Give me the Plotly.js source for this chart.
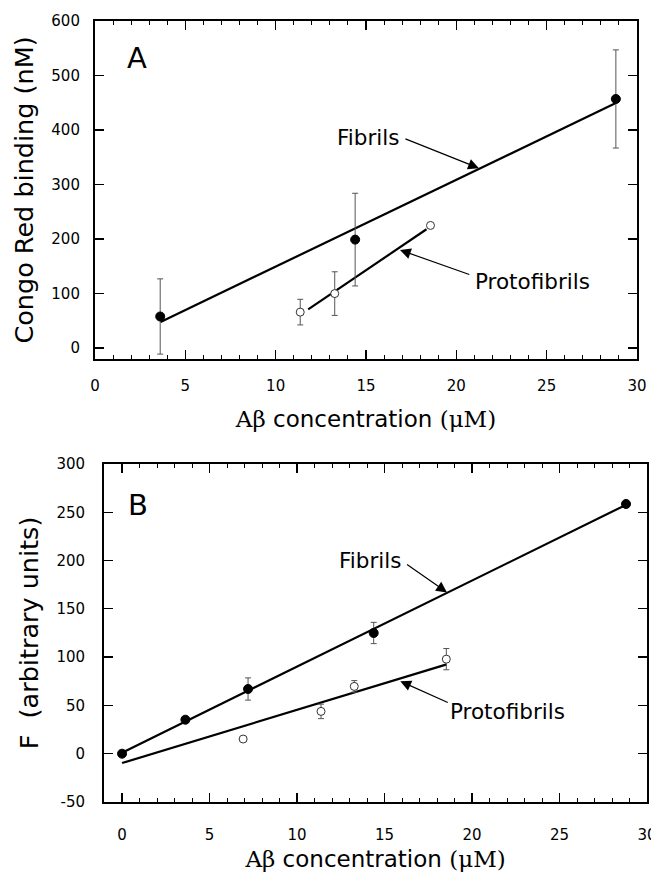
<!DOCTYPE html>
<html>
<head>
<meta charset="utf-8">
<script src="https://cdn.plot.ly/plotly-3.0.1.min.js"></script>
<style>html,body{margin:0;padding:0;background:#fff;}#chart{width:651px;height:872px;}</style>
</head>
<body>
<div id="chart"></div>
<script>
// Panel A: Congo Red binding
const aFibX = [3.61, 14.4, 28.83];
const aFibY = [58, 199, 457];
const aFibErr = [69, 85, 90];
const aProX = [11.36, 13.27, 18.57];
const aProY = [66, 100, 225];
const aProErr = [23.5, 40, 0];
const aFibFitX = [3.63, 28.8];
const aFibFitY = [48, 449];
const aProFitX = [11.8, 18.35];
const aProFitY = [71, 218];

// Panel B: fluorescence
const bFibX = [0, 3.62, 7.2, 14.38, 28.8];
const bFibY = [0, 35.2, 67, 125, 258.6];
const bFibErr = [0, 0, 11.5, 11, 0];
const bProX = [6.92, 11.37, 13.27, 18.53];
const bProY = [15.2, 43.8, 69.7, 97.9];
const bProErr = [0, 7.5, 6, 11];
const bFibFitX = [0, 28.67];
const bFibFitY = [1, 256.6];
const bProFitX = [0, 18.55];
const bProFitY = [-9.7, 92.5];

// Tick labels
const bYTickVals = [-50, 0, 50, 100, 150, 200, 250, 300];
const bYTickText = ['-50', '0', '50', '100', '150', '200', '250', '300'];

const FONT = 'DejaVu Sans';
const SERIF = 'DejaVu Serif';
const xTitle = '<span style="font-family:' + SERIF + '">A\u03b2</span> concentration <span style="font-family:' + SERIF + '">(\u03bcM)</span>';

function fitTrace(x, y, xa, ya) {
  return {x: x, y: y, xaxis: xa, yaxis: ya, type: 'scatter', mode: 'lines',
    line: {color: '#000', width: 2.2}, hoverinfo: 'skip', showlegend: false};
}
function ptTrace(x, y, err, xa, ya, filled) {
  return {x: x, y: y, xaxis: xa, yaxis: ya, type: 'scatter', mode: 'markers',
    error_y: {type: 'data', array: err, visible: true, color: '#555', thickness: 1, width: 3},
    marker: filled ? {color: '#000', size: 9, line: {color: '#000', width: 1}}
                   : {color: '#fff', size: 8, line: {color: '#333', width: 1}},
    showlegend: false};
}

const data = [
  fitTrace(aFibFitX, aFibFitY, 'x', 'y'),
  fitTrace(aProFitX, aProFitY, 'x', 'y'),
  ptTrace(aFibX, aFibY, aFibErr, 'x', 'y', true),
  ptTrace(aProX, aProY, aProErr, 'x', 'y', false),
  fitTrace(bFibFitX, bFibFitY, 'x2', 'y2'),
  fitTrace(bProFitX, bProFitY, 'x2', 'y2'),
  ptTrace(bProX, bProY, bProErr, 'x2', 'y2', false),
  ptTrace(bFibX, bFibY, bFibErr, 'x2', 'y2', true)
];

function axisCommon(extra) {
  return Object.assign({
    showgrid: false, zeroline: false, showline: true, linecolor: '#000', linewidth: 2,
    mirror: 'allticks', ticks: 'inside', ticklen: 9, tickwidth: 1.3, tickcolor: '#000',
    tickfont: {family: FONT, size: 15, color: '#000'}, ticklabeloverflow: 'allow'
  }, extra);
}

const arrowStyle = {showarrow: true, arrowhead: 2, arrowsize: 1.8, arrowwidth: 1.2, arrowcolor: '#000', standoff: 0, startstandoff: 0, text: ''};

const layout = {
  width: 651, height: 872,
  margin: {l: 0, r: 0, t: 0, b: 0},
  paper_bgcolor: '#fff', plot_bgcolor: '#fff',
  showlegend: false,
  font: {family: FONT, color: '#000'},
  xaxis: axisCommon({domain: [0.1459, 0.9785], range: [0, 30], dtick: 5, tick0: 0, anchor: 'y',
    minor: {dtick: 1, ticklen: 4, ticks: 'inside', tickcolor: '#000', tickwidth: 1},
    ticklabelstandoff: 12,
    title: {text: xTitle, font: {family: FONT, size: 23, color: '#000'}, standoff: 17}}),
  yaxis: axisCommon({domain: [0.5883, 0.9759], range: [-20, 600], dtick: 100, tick0: 0, anchor: 'x',
    ticklabelstandoff: 10,
    title: {text: 'Congo Red binding (nM)', font: {family: FONT, size: 25.5, color: '#000'}, standoff: 10}}),
  xaxis2: axisCommon({domain: [0.1598, 0.9939], range: [-1.03, 30.0], dtick: 5, tick0: 0, anchor: 'y2',
    minor: {dtick: 1, ticklen: 4, ticks: 'inside', tickcolor: '#000', tickwidth: 1},
    ticklabelstandoff: 18,
    title: {text: xTitle, font: {family: FONT, size: 23, color: '#000'}, standoff: 10}}),
  yaxis2: axisCommon({domain: [0.0803, 0.4679], range: [-50, 300], tickmode: 'array',
    tickvals: bYTickVals, ticktext: bYTickText, anchor: 'x2',
    ticklabelstandoff: 14,
    title: {text: 'F\u00a0 (arbitrary units)', font: {family: FONT, size: 25.5, color: '#000'}, standoff: 10}}),
  annotations: [
    {xref: 'x', yref: 'y', x: 2.32, y: 532, text: 'A', showarrow: false, font: {family: FONT, size: 29, color: '#000'}},
    {xref: 'x', yref: 'y', x: 15.1, y: 387, text: 'Fibrils', showarrow: false, font: {family: FONT, size: 21.5, color: '#000'}},
    Object.assign({xref: 'x', yref: 'y', x: 21.25, y: 330, axref: 'x', ayref: 'y', ax: 17.1, ay: 385}, arrowStyle),
    {xref: 'x', yref: 'y', x: 24.24, y: 122, text: 'Protofibrils', showarrow: false, font: {family: FONT, size: 21.5, color: '#000'}},
    Object.assign({xref: 'x', yref: 'y', x: 16.88, y: 180, axref: 'x', ayref: 'y', ax: 20.8, ay: 134}, arrowStyle),

    {xref: 'x2', yref: 'y2', x: 0.91, y: 257.5, text: 'B', showarrow: false, font: {family: FONT, size: 29, color: '#000'}},
    {xref: 'x2', yref: 'y2', x: 14.18, y: 199.7, text: 'Fibrils', showarrow: false, font: {family: FONT, size: 21.5, color: '#000'}},
    Object.assign({xref: 'x2', yref: 'y2', x: 18.57, y: 167, axref: 'x2', ayref: 'y2', ax: 16.2, ay: 197}, arrowStyle),
    {xref: 'x2', yref: 'y2', x: 22.04, y: 43.8, text: 'Protofibrils', showarrow: false, font: {family: FONT, size: 21.5, color: '#000'}},
    Object.assign({xref: 'x2', yref: 'y2', x: 15.9, y: 75, axref: 'x2', ayref: 'y2', ax: 18.7, ay: 52.4}, arrowStyle)
  ]
};

Plotly.newPlot('chart', data, layout, {displayModeBar: false, staticPlot: true});
</script>
</body>
</html>
